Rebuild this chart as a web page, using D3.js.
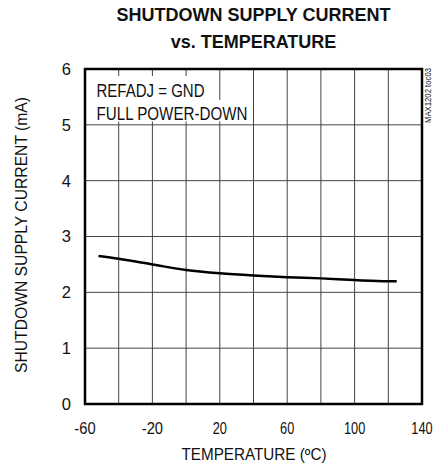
<!DOCTYPE html>
<html>
<head>
<meta charset="utf-8">
<script src="https://cdn.jsdelivr.net/npm/d3@7"></script>
<style>
  body { margin: 0; background: #fff; }
  svg text { font-family: "Liberation Sans", Arial, sans-serif; fill: #111; }
</style>
</head>
<body>
<div id="chart"></div>
<script>
// data
var temps = [-52, -40, -20, 0, 20, 40, 60, 80, 100, 120, 125];
var current = [2.65, 2.6, 2.5, 2.4, 2.34, 2.3, 2.27, 2.25, 2.22, 2.2, 2.2];
var xTicks = [-60, -20, 20, 60, 100, 140];
var yTicks = [0, 1, 2, 3, 4, 5, 6];

var w = 448, h = 470;
var margin = {left: 85, top: 69, right: 26, bottom: 66};
var pw = w - margin.left - margin.right;
var ph = h - margin.top - margin.bottom;

var svg = d3.select("#chart").append("svg")
  .attr("width", w)
  .attr("height", h);

var x = d3.scaleLinear().domain([-60, 140]).range([margin.left, margin.left + pw]);
var y = d3.scaleLinear().domain([0, 6]).range([margin.top + ph, margin.top]);

// grid
svg.append("g")
  .selectAll("line")
  .data(d3.range(-40, 140, 20))
  .enter().append("line")
  .attr("x1", function(d) { return x(d); })
  .attr("x2", function(d) { return x(d); })
  .attr("y1", y(6)).attr("y2", y(0))
  .attr("stroke", "#444").attr("stroke-width", 1);

svg.append("g")
  .selectAll("line")
  .data(d3.range(1, 6))
  .enter().append("line")
  .attr("x1", x(-60)).attr("x2", x(140))
  .attr("y1", function(d) { return y(d); })
  .attr("y2", function(d) { return y(d); })
  .attr("stroke", "#444").attr("stroke-width", 1);

// white boxes behind the note
svg.append("rect").attr("x", 87).attr("y", 76).attr("width", 127).attr("height", 25).attr("fill", "#fff");
svg.append("rect").attr("x", 87).attr("y", 100).attr("width", 163).attr("height", 21.5).attr("fill", "#fff");

svg.append("text").attr("x", 96.5).attr("y", 96.5).attr("font-size", 18)
  .attr("textLength", 108).attr("lengthAdjust", "spacingAndGlyphs")
  .text("REFADJ = GND");
svg.append("text").attr("x", 96.5).attr("y", 119.5).attr("font-size", 18)
  .attr("textLength", 151).attr("lengthAdjust", "spacingAndGlyphs")
  .text("FULL POWER-DOWN");

// frame
svg.append("rect")
  .attr("x", x(-60)).attr("y", y(6))
  .attr("width", pw).attr("height", ph)
  .attr("fill", "none").attr("stroke", "#000").attr("stroke-width", 2.5);

// curve
var line = d3.line()
  .x(function(d, i) { return x(temps[i]); })
  .y(function(d) { return y(d); })
  .curve(d3.curveMonotoneX);

svg.append("path")
  .datum(current)
  .attr("d", line)
  .attr("fill", "none")
  .attr("stroke", "#000")
  .attr("stroke-width", 2.5);

// tick labels
svg.append("g").selectAll("text")
  .data(yTicks)
  .enter().append("text")
  .attr("x", 71)
  .attr("y", function(d) { return y(d); })
  .attr("dy", "0.36em")
  .attr("text-anchor", "end")
  .attr("font-size", 16.5)
  .text(function(d) { return d; });

svg.append("g").selectAll("text")
  .data(xTicks)
  .enter().append("text")
  .attr("x", function(d) { return x(d); })
  .attr("y", 434)
  .attr("text-anchor", "middle")
  .attr("font-size", 16.5)
  .attr("textLength", function(d) { return String(d).length * 7.1; })
  .attr("lengthAdjust", "spacingAndGlyphs")
  .text(function(d) { return d; });

// titles
svg.append("text").attr("x", x(40)).attr("y", 21)
  .attr("text-anchor", "middle").attr("font-size", 18).attr("font-weight", "bold")
  .text("SHUTDOWN SUPPLY CURRENT");
svg.append("text").attr("x", x(40)).attr("y", 48)
  .attr("text-anchor", "middle").attr("font-size", 18).attr("font-weight", "bold")
  .text("vs. TEMPERATURE");

svg.append("text").attr("x", 181.5).attr("y", 460)
  .attr("font-size", 16.5)
  .attr("textLength", 145).attr("lengthAdjust", "spacingAndGlyphs")
  .text("TEMPERATURE (ºC)");

svg.append("text")
  .attr("transform", "translate(27,373) rotate(-90)")
  .attr("font-size", 16.5)
  .attr("textLength", 276).attr("lengthAdjust", "spacingAndGlyphs")
  .text("SHUTDOWN SUPPLY CURRENT (mA)");

svg.append("text")
  .attr("transform", "translate(431,123) rotate(-90)")
  .attr("font-size", 8.5)
  .attr("textLength", 55).attr("lengthAdjust", "spacingAndGlyphs")
  .text("MAX1202 toc03");
</script>
</body>
</html>
